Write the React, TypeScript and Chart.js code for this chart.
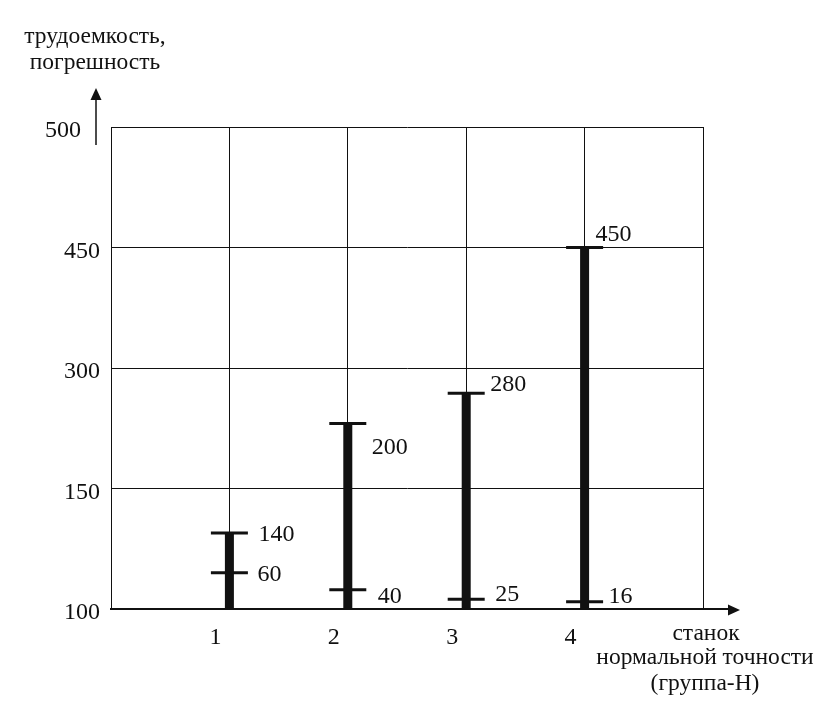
import React, { useEffect, useRef } from 'react';
import { Chart, registerables } from 'chart.js';

Chart.register(...registerables);

// ---- data ----
const yTickLabels = ['100', '150', '300', '450', '500'];
const machineLabels = ['1', '2', '3', '4'];
// plotted heights, in grid steps above the "100" line (schematic axis)
const topLevels = [0.63, 1.54, 1.79, 3.0];
const lowLevels = [0.3, 0.16, 0.08, 0.06];
const topValueLabels = ['140', '200', '280', '450'];
const lowValueLabels = ['60', '40', '25', '16'];
const yAxisTitle = ['трудоемкость,', 'погрешность'];
const xAxisTitle = ['станок', 'нормальной точности', '(группа-Н)'];

// ---- style / layout ----
const FONT = '"Liberation Serif", "Times New Roman", serif';
const INK = '#111';
const TOP_NUDGE = [[29, 0], [24, 23], [24, -10], [11, -15]];
const LOW_NUDGE = [[28, 0], [30, 5], [29, -6], [24, -7]];

const annotPlugin = {
  id: 'annot',
  afterDraw(chart: any) {
    const ctx = chart.ctx as CanvasRenderingContext2D;
    const xs = chart.scales.x;
    const ys = chart.scales.y;
    const { left, right, top, bottom } = chart.chartArea;
    ctx.save();
    ctx.fillStyle = INK;
    ctx.strokeStyle = INK;

    // y tick labels
    ctx.font = `24px ${FONT}`;
    ctx.textAlign = 'right';
    ctx.textBaseline = 'alphabetic';
    yTickLabels.forEach((t, i) => {
      const y = ys.getPixelForValue(i);
      const xr = i === yTickLabels.length - 1 ? left - 30 : left - 11;
      ctx.fillText(t, xr, y + 10);
    });

    // x tick labels
    ctx.textAlign = 'center';
    machineLabels.forEach((t, i) => {
      const x = xs.getPixelForValue(i + 1);
      ctx.fillText(t, x - 14, bottom + 35);
    });

    // value labels
    ctx.textAlign = 'left';
    machineLabels.forEach((_, i) => {
      const x = xs.getPixelForValue(i + 1);
      const yt = ys.getPixelForValue(topLevels[i]);
      const yl = ys.getPixelForValue(lowLevels[i]);
      ctx.fillText(topValueLabels[i], x + TOP_NUDGE[i][0], yt + TOP_NUDGE[i][1] + 8);
      ctx.fillText(lowValueLabels[i], x + LOW_NUDGE[i][0], yl + LOW_NUDGE[i][1] + 8);
    });

    // y arrow
    const ax = left - 15;
    ctx.lineWidth = 1.5;
    ctx.beginPath();
    ctx.moveTo(ax, top + 18);
    ctx.lineTo(ax, top - 28);
    ctx.stroke();
    ctx.beginPath();
    ctx.moveTo(ax, top - 39);
    ctx.lineTo(ax - 5.5, top - 27);
    ctx.lineTo(ax + 5.5, top - 27);
    ctx.closePath();
    ctx.fill();

    // x axis extension + arrow
    ctx.lineWidth = 2;
    ctx.beginPath();
    ctx.moveTo(right, bottom);
    ctx.lineTo(right + 26, bottom);
    ctx.stroke();
    ctx.beginPath();
    ctx.moveTo(right + 37, bottom + 1);
    ctx.lineTo(right + 25, bottom - 4.5);
    ctx.lineTo(right + 25, bottom + 6.5);
    ctx.closePath();
    ctx.fill();

    // axis titles
    ctx.font = `23.5px ${FONT}`;
    ctx.textAlign = 'center';
    ctx.fillText(yAxisTitle[0], left - 16, top - 84);
    ctx.fillText(yAxisTitle[1], left - 16, top - 58);
    ctx.fillText(xAxisTitle[0], right + 3, bottom + 31);
    ctx.fillText(xAxisTitle[1], right + 2, bottom + 55);
    ctx.fillText(xAxisTitle[2], right + 2, bottom + 81);

    ctx.restore();
  },
};

export default function App() {
  const ref = useRef<HTMLCanvasElement>(null);

  useEffect(() => {
    if (!ref.current) return;
    const stems: any[] = [];
    machineLabels.forEach((_, i) => {
      stems.push({ x: i + 1, y: 0 }, { x: i + 1, y: topLevels[i] }, { x: i + 1, y: null });
    });
    const topCaps = machineLabels.map((_, i) => ({ x: i + 1, y: topLevels[i] }));
    const lowCaps = machineLabels.map((_, i) => ({ x: i + 1, y: lowLevels[i] }));

    const chart = new Chart(ref.current, {
      type: 'scatter',
      data: {
        datasets: [
          {
            type: 'line',
            data: stems,
            borderColor: INK,
            borderWidth: 9,
            borderCapStyle: 'butt',
            pointRadius: 0,
            spanGaps: false,
            fill: false,
          } as any,
          {
            data: topCaps,
            pointStyle: 'line',
            pointRadius: 18.5,
            pointBorderWidth: 3,
            pointBorderColor: INK,
            pointBackgroundColor: INK,
          } as any,
          {
            data: lowCaps,
            pointStyle: 'line',
            pointRadius: 18.5,
            pointBorderWidth: 3,
            pointBorderColor: INK,
            pointBackgroundColor: INK,
          } as any,
        ],
      },
      options: {
        animation: false,
        responsive: false,
        events: [],
        layout: { padding: { left: 111, top: 127, right: 127, bottom: 113 } },
        plugins: { legend: { display: false }, tooltip: { enabled: false } },
        scales: {
          x: {
            type: 'linear',
            min: 0,
            max: 5,
            ticks: { stepSize: 1, display: false },
            grid: { color: INK, lineWidth: 1, drawTicks: false },
            border: { display: true, color: INK, width: 2 },
          },
          y: {
            type: 'linear',
            min: 0,
            max: 4,
            ticks: { stepSize: 1, display: false },
            grid: { color: INK, lineWidth: 1, drawTicks: false },
            border: { display: true, color: INK, width: 1 },
          },
        },
      },
      plugins: [annotPlugin],
    });
    return () => chart.destroy();
  }, []);

  return (
    <div style={{ position: 'absolute', left: 0, top: 0, width: 830, height: 722, background: '#fff' }}>
      <canvas ref={ref} width={830} height={722} style={{ display: 'block' }} />
    </div>
  );
}
